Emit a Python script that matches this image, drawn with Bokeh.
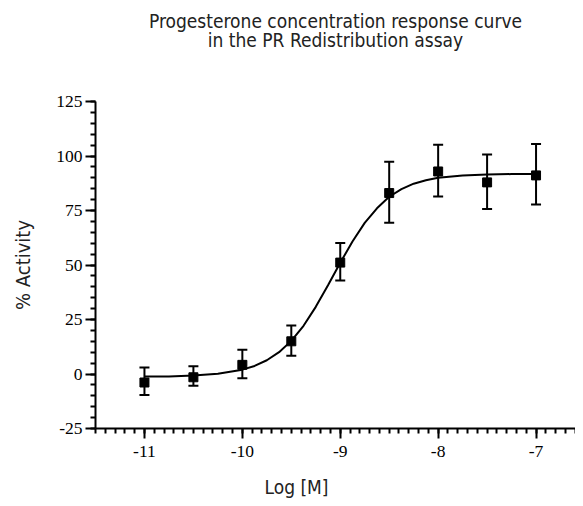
from bokeh.plotting import figure
from bokeh.models import (ColumnDataSource, Whisker, TeeHead, SingleIntervalTicker,
                          Range1d, Title, PrintfTickFormatter)
from bokeh.embed import file_html
from bokeh.resources import INLINE

# ---- data ----
log_conc = [-11.0, -10.5, -10.0, -9.5, -9.0, -8.5, -8.0, -7.5, -7.0]
activity = [-3.9, -1.5, 4.2, 15.0, 51.1, 83.0, 92.9, 87.9, 91.1]
err_upper = [3.0, 3.5, 11.1, 22.3, 60.1, 97.4, 105.2, 100.7, 105.5]
err_lower = [-9.6, -5.4, -1.9, 8.4, 42.9, 69.4, 81.4, 75.7, 77.7]

# fitted curve
curve_x = [-11.0, -10.75, -10.5, -10.25, -10.0, -9.875, -9.75, -9.625, -9.5, -9.375,
           -9.25, -9.125, -9.0, -8.875, -8.75, -8.625, -8.5, -8.375, -8.25, -8.125,
           -8.0, -7.75, -7.5, -7.25, -7.0]
curve_y = [-1.2, -1.1, -0.7, 0.1, 2.0, 3.7, 6.3, 10.0, 15.2, 22.1,
           30.8, 40.7, 51.0, 60.8, 69.3, 76.0, 81.3, 84.8, 87.3, 88.9,
           90.0, 91.1, 91.5, 91.7, 91.8]

x_ticks_major = 1
y_ticks_major = 25

title_line1 = "Progesterone concentration response curve"
title_line2 = "in the PR Redistribution assay"
x_label = "Log [M]"
y_label = "% Activity"

SANS = "DejaVu Sans Condensed"
SERIF = "Liberation Serif"
TXT = "#222222"

p = figure(width=575, height=498, output_backend="svg", toolbar_location=None,
           x_range=Range1d(-11.5, -6.597), y_range=Range1d(-25, 125),
           min_border_left=95, min_border_right=0, min_border_top=0, min_border_bottom=70)
p.title_location = None
p.outline_line_color = None
p.xgrid.visible = False
p.ygrid.visible = False
p.background_fill_color = "white"
p.border_fill_color = "white"

# top panels, from the top edge down: line 1, line 2, spacer
t1 = Title(text=title_line1, align="center", text_font=SANS, text_font_size="19px",
           text_font_style="normal", text_color=TXT, standoff=14)
t2 = Title(text=title_line2, align="center", text_font=SANS, text_font_size="19px",
           text_font_style="normal", text_color=TXT, standoff=-23)
sp_top = Title(text=" ", text_font_size="10px", standoff=49)
p.add_layout(sp_top, "above")
p.add_layout(t2, "above")
p.add_layout(t1, "above")

p.xaxis.ticker = SingleIntervalTicker(interval=x_ticks_major, num_minor_ticks=10)
p.yaxis.ticker = SingleIntervalTicker(interval=y_ticks_major, num_minor_ticks=5)
p.xaxis.formatter = PrintfTickFormatter(format="%d")
p.yaxis.formatter = PrintfTickFormatter(format="%d")

for ax in (p.xaxis[0], p.yaxis[0]):
    ax.axis_line_width = 2
    ax.axis_line_color = "black"
    ax.major_tick_line_width = 2
    ax.minor_tick_line_width = 2
    ax.major_tick_line_color = "black"
    ax.minor_tick_line_color = "black"
    ax.major_tick_in = 0
    ax.minor_tick_in = 0
    ax.major_tick_out = 10
    ax.minor_tick_out = 5
    ax.major_label_text_font = SERIF
    ax.major_label_text_font_size = "17.5px"
    ax.major_label_text_color = "black"

p.xaxis.major_label_standoff = 7
p.yaxis.major_label_standoff = 3

p.yaxis.axis_label = y_label
p.yaxis.axis_label_text_font = SANS
p.yaxis.axis_label_text_font_size = "20px"
p.yaxis.axis_label_text_font_style = "normal"
p.yaxis.axis_label_text_color = TXT
p.yaxis.axis_label_standoff = 18

sp_bot = Title(text=" ", text_font_size="10px", standoff=6)
xl = Title(text=x_label, align="left", offset=169, text_font=SANS, text_font_size="19px",
           text_font_style="normal", text_color=TXT, standoff=-10)
p.add_layout(sp_bot, "below")
p.add_layout(xl, "below")

p.line(curve_x, curve_y, line_width=2, color="black")

src = ColumnDataSource(dict(x=log_conc, y=activity, upper=err_upper, lower=err_lower))
w = Whisker(source=src, base="x", upper="upper", lower="lower",
            line_width=2, line_color="black",
            upper_head=TeeHead(size=10, line_width=2, line_color="black"),
            lower_head=TeeHead(size=10, line_width=2, line_color="black"))
p.add_layout(w)
p.scatter("x", "y", source=src, marker="square", size=9, color="black")

open("out.html", "w").write(file_html(p, INLINE))
